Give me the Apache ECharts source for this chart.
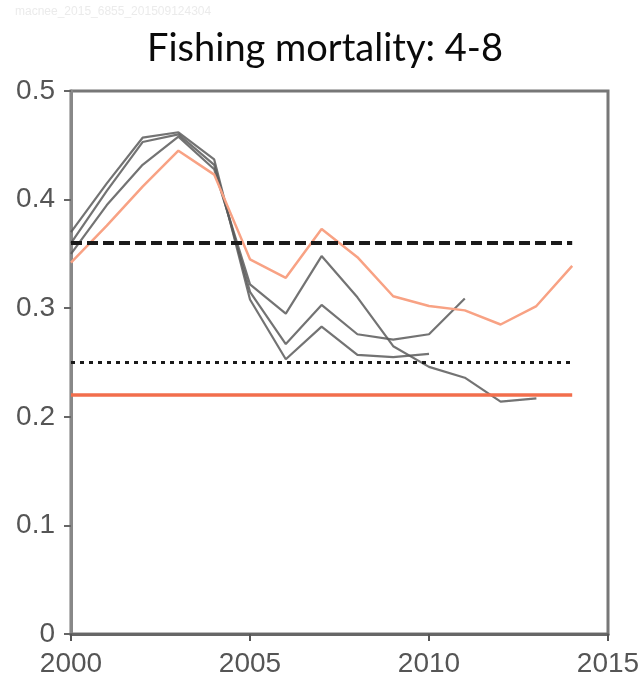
<!DOCTYPE html>
<html>
<head>
<meta charset="utf-8">
<script src="https://cdn.jsdelivr.net/npm/echarts@6/dist/echarts.min.js"></script>
<style>
html,body{margin:0;padding:0;background:#fff;}
#chart{width:644px;height:684px;}
</style>
</head>
<body>
<div id="chart"></div>
<script>
// ---- data ----
const titleText = 'Fishing mortality: 4-8';
const watermarkText = 'macnee_2015_6855_201509124304';
const years = [2000, 2001, 2002, 2003, 2004, 2005, 2006, 2007, 2008, 2009, 2010, 2011, 2012, 2013, 2014];
const currentF = [0.342, 0.376, 0.412, 0.445, 0.423, 0.345, 0.328, 0.373, 0.347, 0.311, 0.302, 0.298, 0.285, 0.302, 0.339];
const retro2013 = [0.350, 0.395, 0.432, 0.458, 0.428, 0.322, 0.295, 0.348, 0.310, 0.265, 0.246, 0.236, 0.214, 0.217];
const retro2011 = [0.360, 0.408, 0.453, 0.460, 0.432, 0.315, 0.267, 0.303, 0.276, 0.271, 0.276, 0.309];
const retro2010 = [0.370, 0.415, 0.457, 0.462, 0.437, 0.308, 0.253, 0.283, 0.257, 0.255, 0.258];
const refYears = [2000, 2014];
const refDashed = 0.36;
const refDotted = 0.25;
const refRed = 0.22;
const xTicks = [2000, 2005, 2010, 2015];
const yTicks = [0, 0.1, 0.2, 0.3, 0.4, 0.5];

const pairs = (vals) => vals.map((v, i) => [years[i], v]);
const flat = (v) => refYears.map(y => [y, v]);

const chart = echarts.init(document.getElementById('chart'), null, {renderer: 'canvas'});
const grayLine = (name, vals) => ({
  name, type: 'line', data: pairs(vals), symbol: 'none', z: 3,
  lineStyle: {color: '#5a5a5a', width: 2.2, opacity: 0.85}
});
chart.setOption({
  animation: false,
  backgroundColor: '#fff',
  graphic: [
    {type: 'text', left: 15, top: 6, style: {text: watermarkText, font: '12px "Liberation Sans", sans-serif', fill: '#ebebeb'}},
    {type: 'text', x: 325, y: 49, style: {text: titleText, font: '38px Lato, sans-serif', fill: '#0a0a0a', textAlign: 'center', textVerticalAlign: 'middle'}}
  ],
  grid: {left: 71, right: 36, top: 91, bottom: 50, show: true, borderColor: '#777', borderWidth: 3, backgroundColor: 'transparent'},
  xAxis: {
    type: 'value', min: xTicks[0], max: xTicks[xTicks.length - 1], interval: 5,
    axisLine: {show: true, onZero: false, lineStyle: {color: '#666', width: 3}},
    axisTick: {show: true, length: 7, lineStyle: {color: '#555', width: 2}},
    splitLine: {show: false},
    axisLabel: {margin: 16, fontSize: 28, fontFamily: '"Liberation Sans", Arial, sans-serif', color: '#555', formatter: v => String(v)}
  },
  yAxis: {
    type: 'value', min: yTicks[0], max: yTicks[yTicks.length - 1], interval: 0.1,
    axisLine: {show: true, lineStyle: {color: '#888', width: 3}},
    axisTick: {show: true, length: 7, lineStyle: {color: '#666', width: 2}},
    splitLine: {show: false},
    axisLabel: {margin: 16, fontSize: 28, fontFamily: '"Liberation Sans", Arial, sans-serif', color: '#555', formatter: v => v === 0 ? '0' : v.toFixed(1)}
  },
  series: [
    grayLine('retro2010', retro2010),
    grayLine('retro2011', retro2011),
    grayLine('retro2013', retro2013),
    {name: 'current', type: 'line', data: pairs(currentF), symbol: 'none', z: 4,
     lineStyle: {color: '#f8a284', width: 2.5}},
    {name: 'Fmsy', type: 'line', data: flat(refRed), symbol: 'none', z: 5,
     lineStyle: {color: '#f26e4c', width: 3.5}},
    {name: 'Fpa', type: 'line', data: flat(refDashed), symbol: 'none', z: 5,
     lineStyle: {color: '#1a1a1a', width: 4, type: [11, 5]}},
    {name: 'Flim', type: 'line', data: flat(refDotted), symbol: 'none', z: 5,
     lineStyle: {color: '#1a1a1a', width: 3, type: [4, 5]}}
  ]
});
</script>
</body>
</html>
